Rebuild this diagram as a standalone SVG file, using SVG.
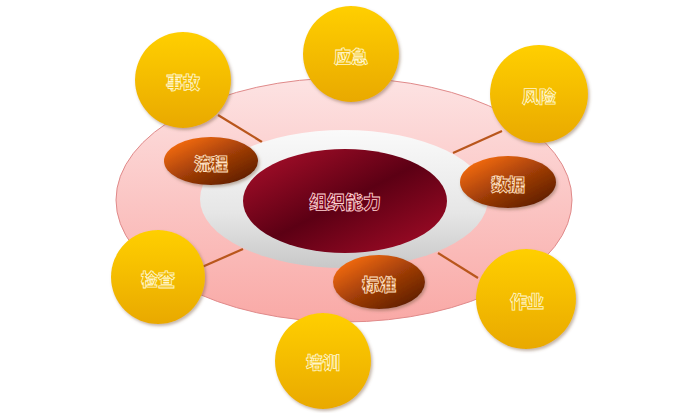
<svg xmlns="http://www.w3.org/2000/svg" width="687" height="413" viewBox="0 0 687 413">
<defs>
<linearGradient id="gPink" x1="0" y1="0" x2="0" y2="1">
<stop offset="0" stop-color="#fde3e3"/>
<stop offset="1" stop-color="#f9a9a6"/>
</linearGradient>
<linearGradient id="gGrey" x1="0" y1="0" x2="0" y2="1">
<stop offset="0" stop-color="#fafafa"/>
<stop offset="0.6" stop-color="#e6e6e6"/>
<stop offset="1" stop-color="#c8c8c8"/>
</linearGradient>
<linearGradient id="gRed" x1="0" y1="0" x2="1" y2="1">
<stop offset="0" stop-color="#b0102c"/>
<stop offset="0.5" stop-color="#5c0014"/>
<stop offset="1" stop-color="#a80c28"/>
</linearGradient>
<linearGradient id="gOrange" x1="0.15" y1="0.1" x2="0.9" y2="0.9">
<stop offset="0" stop-color="#f26a10"/>
<stop offset="0.55" stop-color="#9a3a06"/>
<stop offset="1" stop-color="#5e1e02"/>
</linearGradient>
<linearGradient id="gYellow" x1="0" y1="0" x2="0" y2="1">
<stop offset="0" stop-color="#ffcf06"/>
<stop offset="1" stop-color="#e9a905"/>
</linearGradient>
<filter id="sh" x="-20%" y="-20%" width="140%" height="140%">
<feDropShadow dx="1.5" dy="2" stdDeviation="1.5" flood-color="#7a5a40" flood-opacity="0.45"/>
</filter>
<style>
.lbl{font-family:"Noto Sans CJK SC","Noto Sans",sans-serif;font-weight:900;font-size:17px;text-anchor:middle;dominant-baseline:central;stroke-width:0.8px}
.ty{fill:#f2bb06;stroke:#fff6cc}
.to{fill:#a84608;stroke:#ffe2c4}
.tr{fill:#7a0018;stroke:#ffd6d6;font-size:18px}
.yc{fill:url(#gYellow);filter:url(#sh)}
.oe{fill:url(#gOrange);filter:url(#sh)}
.ln{stroke:#b9561c;stroke-width:2.2;fill:none}
</style>
</defs>
<rect width="687" height="413" fill="#ffffff"/>
<g id="outer">
<ellipse cx="344" cy="200" rx="228" ry="122" fill="url(#gPink)" stroke="#e08a8a" stroke-width="1"/>
</g>
<g id="connectors">
<line class="ln" x1="218" y1="115" x2="262" y2="142"/>
<line class="ln" x1="502" y1="131" x2="453" y2="153"/>
<line class="ln" x1="202" y1="267" x2="243" y2="249"/>
<line class="ln" x1="438" y1="253" x2="478" y2="278"/>
</g>
<g id="ring">
<ellipse cx="344" cy="199" rx="144" ry="69" fill="url(#gGrey)"/>
</g>
<g id="center">
<ellipse cx="345" cy="201" rx="102" ry="52" fill="url(#gRed)"/>
<text class="lbl tr" x="345" y="201">组织能力</text>
</g>
<g id="liucheng">
<ellipse class="oe" cx="211" cy="161" rx="47" ry="24"/>
<text class="lbl to" x="211" y="162">流程</text>
</g>
<g id="shuju">
<ellipse class="oe" cx="508" cy="182" rx="48" ry="26"/>
<text class="lbl to" x="508" y="183">数据</text>
</g>
<g id="biaozhun">
<ellipse class="oe" cx="379" cy="282" rx="46" ry="27"/>
<text class="lbl to" x="379" y="283">标准</text>
</g>
<g id="shigu">
<circle class="yc" cx="183" cy="80" r="48"/>
<text class="lbl ty" x="183" y="81">事故</text>
</g>
<g id="yingji">
<circle class="yc" cx="351" cy="54" r="48"/>
<text class="lbl ty" x="351" y="55">应急</text>
</g>
<g id="fengxian">
<circle class="yc" cx="539" cy="94" r="49"/>
<text class="lbl ty" x="539" y="95">风险</text>
</g>
<g id="jiancha">
<circle class="yc" cx="158" cy="277" r="47"/>
<text class="lbl ty" x="158" y="278">检查</text>
</g>
<g id="zuoye">
<circle class="yc" cx="526" cy="299" r="50"/>
<text class="lbl ty" x="527" y="300">作业</text>
</g>
<g id="peixun">
<circle class="yc" cx="323" cy="361" r="48"/>
<text class="lbl ty" x="323" y="361">培训</text>
</g>
</svg>
